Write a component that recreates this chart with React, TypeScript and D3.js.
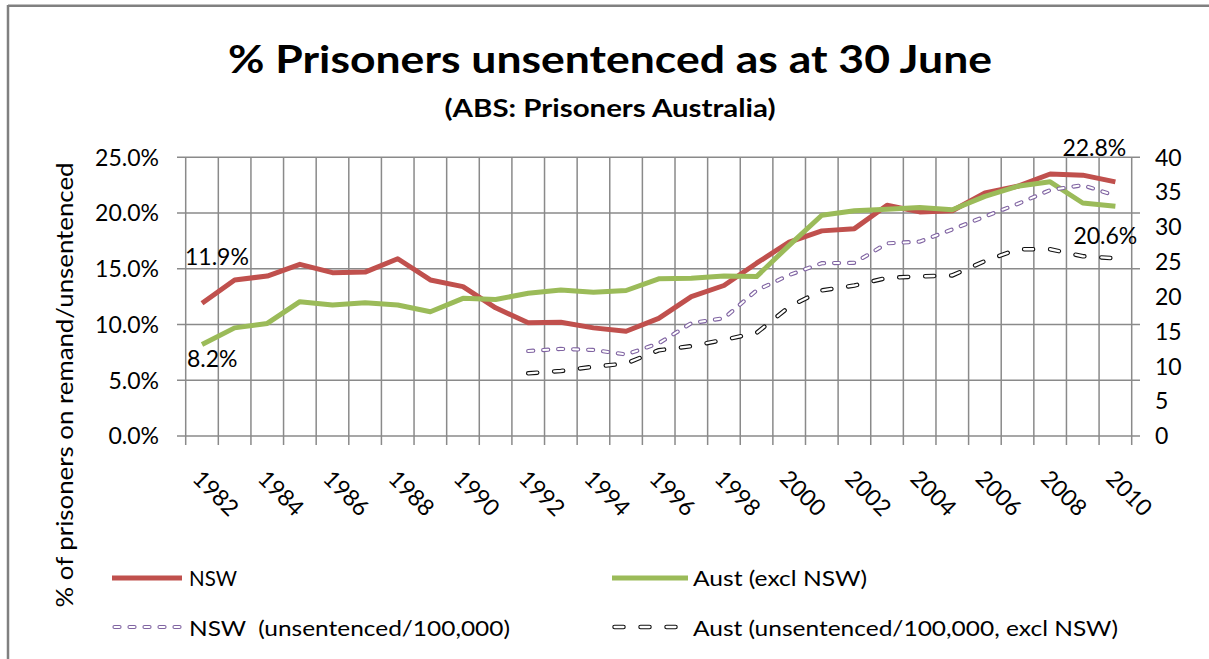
import React from "react";
import * as d3 from "d3";

const years = [1982, 1983, 1984, 1985, 1986, 1987, 1988, 1989, 1990, 1991, 1992, 1993, 1994, 1995, 1996, 1997, 1998, 1999, 2000, 2001, 2002, 2003, 2004, 2005, 2006, 2007, 2008, 2009, 2010];

// % of prisoners unsentenced (left axis)
const nswPct = [11.9, 14.0, 14.35, 15.4, 14.65, 14.7, 15.9, 14.0, 13.4, 11.5, 10.15, 10.2, 9.7, 9.4, 10.55, 12.5, 13.5, 15.5, 17.4, 18.4, 18.6, 20.7, 20.1, 20.2, 21.8, 22.4, 23.5, 23.4, 22.8];
const austPct = [8.2, 9.7, 10.1, 12.05, 11.75, 11.95, 11.75, 11.15, 12.35, 12.25, 12.8, 13.1, 12.9, 13.05, 14.1, 14.15, 14.35, 14.3, 17.1, 19.8, 20.2, 20.35, 20.5, 20.3, 21.5, 22.4, 22.8, 20.9, 20.6];

// unsentenced per 100,000 (right axis)
const nswRate = [null, null, null, null, null, null, null, null, null, null, 12.2, 12.5, 12.35, 11.7, 13.3, 16.2, 16.9, 20.9, 23.1, 24.8, 24.85, 27.65, 27.9, 29.65, 31.5, 33.3, 35.3, 36.0, 34.5];
const austRate = [null, null, null, null, null, null, null, null, null, null, 9.0, 9.33, 9.95, 10.4, 12.3, 12.9, 13.8, 14.8, 18.55, 20.9, 21.6, 22.7, 22.9, 23.05, 25.1, 26.8, 26.8, 25.8, 25.5];

const leftTicks = [0, 5, 10, 15, 20, 25];
const rightTicks = [0, 5, 10, 15, 20, 25, 30, 35, 40];
const xLabelYears = [1982, 1984, 1986, 1988, 1990, 1992, 1994, 1996, 1998, 2000, 2002, 2004, 2006, 2008, 2010];

const title = "% Prisoners unsentenced as at 30 June";
const subtitle = "(ABS: Prisoners Australia)";
const yTitle = "% of prisoners on remand/unsentenced";
const legendNames = ["NSW", "Aust (excl NSW)", "NSW  (unsentenced/100,000)", "Aust (unsentenced/100,000, excl NSW)"];

const W = 1209;
const H = 659;
const PL = 185.7;
const PR = 1131.7;
const PT = 157.3;
const PB = 436;

const FONT = "Lato, 'Open Sans', sans-serif";
const RED = "#C0504D";
const GREEN = "#9BBB59";
const PURPLE = "#8064A2";
const GRID = "#8a8a8a";

type Pt = [number, number | null];

export default function App() {
  const x = d3.scaleBand<number>().domain(years).range([PL, PR]).padding(0);
  const cx = (yr: number) => (x(yr) ?? 0) + x.bandwidth() / 2;
  const yL = d3.scaleLinear().domain([0, 25]).range([PB, PT]);
  const yR = d3.scaleLinear().domain([0, 40]).range([PB, PT]);

  const toPts = (arr: (number | null)[]): Pt[] => years.map((yr, i) => [yr, arr[i]]);
  const lineL = d3
    .line<Pt>()
    .defined((d) => d[1] != null)
    .x((d) => cx(d[0]))
    .y((d) => yL(d[1] as number));
  const lineR = d3
    .line<Pt>()
    .defined((d) => d[1] != null)
    .x((d) => cx(d[0]))
    .y((d) => yR(d[1] as number));

  const boundaries = [...years.map((yr) => x(yr) as number), PR];
  const last = years.length - 1;

  const purpleDash = "5 10";
  const blackDash = "9 17";

  const hollow = (d: string, color: string, dash: string, w: number, key: string) => (
    <g key={key}>
      <path d={d} fill="none" stroke={color} strokeWidth={w} strokeDasharray={dash} strokeLinecap="round" />
      <path d={d} fill="none" stroke="#fff" strokeWidth={w - 2.2} strokeDasharray={dash} strokeLinecap="round" />
    </g>
  );

  return (
    <div style={{ position: "absolute", left: 0, top: 0 }}>
      <svg width={W} height={H} viewBox={`0 0 ${W} ${H}`} style={{ display: "block", background: "#fff" }} fontFamily={FONT}>
        <rect x={0} y={0} width={W} height={H} fill="#fff" />
        {/* outer chart frame */}
        <line x1={8} y1={5.7} x2={W} y2={5.7} stroke="#808080" strokeWidth={2.5} />
        <line x1={8} y1={5} x2={8} y2={H} stroke="#808080" strokeWidth={2.5} />

        {/* titles */}
        <text x={610} y={73} textAnchor="middle" fontSize={38} fontWeight="bold" textLength={764} lengthAdjust="spacingAndGlyphs">{title}</text>
        <text x={610} y={117} textAnchor="middle" fontSize={24} fontWeight="bold" textLength={331} lengthAdjust="spacingAndGlyphs">{subtitle}</text>

        {/* horizontal gridlines */}
        {leftTicks.map((t) => (
          <line key={"h" + t} x1={177} x2={1140} y1={yL(t)} y2={yL(t)} stroke={GRID} strokeWidth={1.5} />
        ))}
        {/* vertical gridlines + ticks */}
        {boundaries.map((bx, i) => (
          <line key={"v" + i} x1={bx} x2={bx} y1={PT} y2={PB + 9} stroke={GRID} strokeWidth={1.5} />
        ))}

        {/* left tick labels */}
        {leftTicks.map((t) => (
          <text key={"lt" + t} x={159} y={yL(t)} dy="0.36em" textAnchor="end" fontSize={23} fill="#000">
            {t.toFixed(1) + "%"}
          </text>
        ))}
        {/* right tick labels */}
        {rightTicks.map((t) => (
          <text key={"rt" + t} x={1155} y={yR(t)} dy="0.36em" textAnchor="start" fontSize={23} fill="#000">
            {String(t)}
          </text>
        ))}
        {/* x labels */}
        {xLabelYears.map((yr) => (
          <text key={"xl" + yr} transform={`translate(${cx(yr) + 14},${493}) rotate(45)`} textAnchor="middle" dy="0.36em" fontSize={23} fill="#000">
            {String(yr)}
          </text>
        ))}

        {/* y axis title */}
        <text transform={`translate(73,385) rotate(-90)`} textAnchor="middle" fontSize={23} fill="#000" textLength={445} lengthAdjust="spacingAndGlyphs">
          {yTitle}
        </text>

        {/* series */}
        <path d={lineL(toPts(nswPct)) ?? ""} fill="none" stroke={RED} strokeWidth={5} strokeLinejoin="round" />
        <path d={lineL(toPts(austPct)) ?? ""} fill="none" stroke={GREEN} strokeWidth={5} strokeLinejoin="round" />
        {hollow(lineR(toPts(nswRate)) ?? "", PURPLE, purpleDash, 4.2, "pr")}
        {hollow(lineR(toPts(austRate)) ?? "", "#111", blackDash, 4.5, "br")}

        {/* data labels */}
        <text x={cx(years[0]) - 17} y={yL(nswPct[0]) - 38} fontSize={23} fill="#000">{nswPct[0].toFixed(1) + "%"}</text>
        <text x={cx(years[0]) - 15} y={yL(austPct[0]) + 22} fontSize={23} fill="#000">{austPct[0].toFixed(1) + "%"}</text>
        <text x={cx(years[last]) - 53} y={yL(nswPct[last]) - 26} fontSize={23} fill="#000">{nswPct[last].toFixed(1) + "%"}</text>
        <text x={cx(years[last]) - 42} y={yL(austPct[last]) + 38} fontSize={23} fill="#000">{austPct[last].toFixed(1) + "%"}</text>

        {/* legend */}
        <line x1={112} x2={182} y1={578} y2={578} stroke={RED} strokeWidth={5} />
        <text x={189} y={586} fontSize={22} textLength={48} lengthAdjust="spacingAndGlyphs">{legendNames[0]}</text>
        <line x1={612} x2={688} y1={578} y2={578} stroke={GREEN} strokeWidth={5} />
        <text x={693} y={586} fontSize={22} textLength={174} lengthAdjust="spacingAndGlyphs">{legendNames[1]}</text>
        {hollow("M114.5,627 L182,627", PURPLE, purpleDash, 4.2, "lp")}
        <text x={189} y={636} fontSize={22} style={{ whiteSpace: "pre" }} textLength={321} lengthAdjust="spacingAndGlyphs">{legendNames[2]}</text>
        {hollow("M614.5,627 L688,627", "#111", blackDash, 4.5, "lb")}
        <text x={693} y={636} fontSize={22} textLength={425} lengthAdjust="spacingAndGlyphs">{legendNames[3]}</text>
      </svg>
    </div>
  );
}
